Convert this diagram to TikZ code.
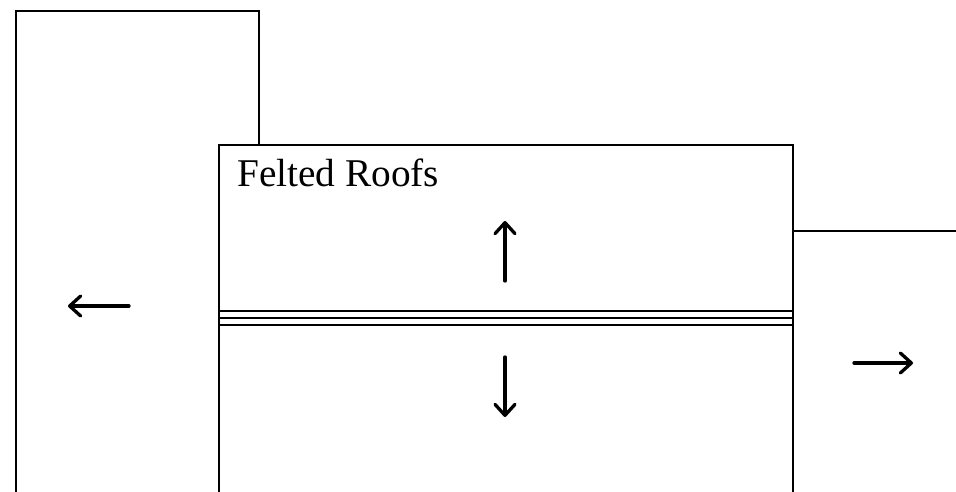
\documentclass[tikz,border=0pt]{standalone}
\usepackage{fontspec}
\setmainfont{Liberation Serif}
\usetikzlibrary{arrows.meta}
\begin{document}
\begin{tikzpicture}[x=1pt,y=-1pt,
  wall/.style={line width=1.2pt, line join=miter},
  bigarrow/.style={line width=3.3pt, line cap=round, -{Straight Barb[length=11pt,width=20pt,line width=3.3pt,round]}}]
\useasboundingbox (0,0) rectangle (956,491);
\draw[wall] (16,495) -- (16,11) -- (259,11) -- (259,145);
\draw[wall] (219,495) -- (219,145) -- (793,145) -- (793,495);
\draw[wall] (793,231) -- (960,231);
\draw[wall] (219,311) -- (793,311);
\draw[wall] (219,318) -- (793,318);
\draw[wall] (219,325) -- (793,325);
\node[anchor=base west, inner sep=0pt, font=\fontsize{39.3}{44}\selectfont] (title) at (237,186) {Felted Roofs};
\coordinate (la) at (129,306); \coordinate (lb) at (68,306);
\coordinate (ua) at (505,281); \coordinate (ub) at (505,221);
\coordinate (da) at (505,357); \coordinate (db) at (505,417);
\coordinate (ra) at (854,363); \coordinate (rb) at (913,363);
\draw[bigarrow] (la) -- (lb);
\draw[bigarrow] (ua) -- (ub);
\draw[bigarrow] (da) -- (db);
\draw[bigarrow] (ra) -- (rb);
\end{tikzpicture}
\end{document}
